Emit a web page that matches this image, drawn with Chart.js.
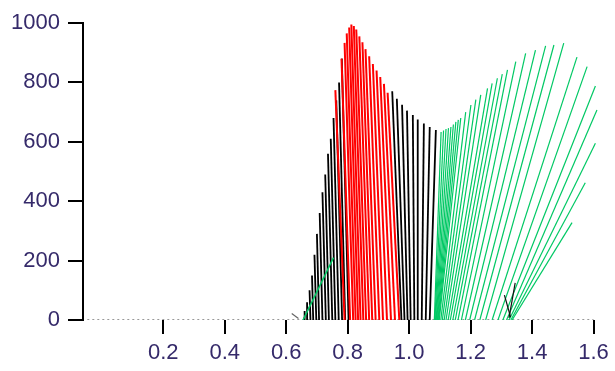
<!DOCTYPE html>
<html>
<head>
<meta charset="utf-8">
<script src="https://cdn.jsdelivr.net/npm/chart.js@4"></script>
<style>
  html, body { margin: 0; padding: 0; background: #fff; }
  #wrap { width: 615px; height: 371px; }
</style>
</head>
<body>
<div id="wrap"><canvas id="myChart"></canvas></div>
<script>
const xTicks = [0.2, 0.4, 0.6, 0.8, 1.0, 1.2, 1.4, 1.6];
const yTicks = [0, 200, 400, 600, 800, 1000];

// rising black strokes (base x at y=0, tip x, tip height)
const blackRiseBase = [0.661, 0.670, 0.679, 0.688, 0.698, 0.707, 0.718, 0.729, 0.739, 0.750, 0.760, 0.771, 0.782, 0.792, 0.803];
const blackRiseTipX = [0.660, 0.668, 0.676, 0.684, 0.692, 0.700, 0.709, 0.718, 0.727, 0.736, 0.745, 0.754, 0.763, 0.772, 0.781];
const blackRiseTipY = [30, 60, 100, 150, 220, 290, 360, 430, 490, 560, 610, 680, 740, 800, 880];

// red peak
const redBase = [0.790, 0.808, 0.818, 0.826, 0.834, 0.842, 0.851, 0.860, 0.870, 0.880, 0.891, 0.903, 0.915, 0.928, 0.941, 0.954, 0.968];
const redTipX = [0.760, 0.780, 0.790, 0.797, 0.805, 0.812, 0.820, 0.828, 0.838, 0.848, 0.858, 0.870, 0.882, 0.894, 0.906, 0.918, 0.930];
const redTipY = [774, 880, 933, 965, 985, 995, 990, 978, 955, 935, 912, 888, 862, 840, 818, 795, 765];

// falling black strokes after the peak
const blackFallBase = [0.975, 0.985, 0.995, 1.005, 1.017, 1.028, 1.041, 1.054, 1.067];
const blackFallTipX = [0.945, 0.960, 0.977, 0.993, 1.012, 1.028, 1.048, 1.067, 1.087];
const blackFallTipY = [770, 745, 725, 705, 690, 675, 662, 650, 640];

// green fan
const greenBase = [1.082, 1.084, 1.086, 1.088, 1.090, 1.092, 1.094, 1.096, 1.098, 1.103, 1.108, 1.114, 1.120, 1.127, 1.134, 1.142, 1.150, 1.159,
                   1.170, 1.183, 1.197, 1.213, 1.230, 1.249, 1.270, 1.289, 1.305, 1.317, 1.325, 1.331, 1.335];
const greenTipX = [1.104, 1.112, 1.120, 1.128, 1.136, 1.144, 1.152, 1.160, 1.168, 1.184, 1.201, 1.217, 1.233, 1.255, 1.270, 1.287, 1.303, 1.320,
                   1.347, 1.379, 1.411, 1.444, 1.471, 1.503, 1.546, 1.579, 1.606, 1.611, 1.606, 1.573, 1.530];
const greenTipY = [633, 638, 643, 646, 650, 658, 667, 674, 680, 700, 724, 742, 758, 780, 797, 814, 828, 842,
                   870, 898, 909, 923, 926, 932, 885, 853, 788, 707, 595, 462, 328];

// small leftover strokes near the base
const strayFromX = [0.618, 0.657, 1.325, 1.310];
const strayFromY = [22, 5, 7, 84];
const strayToX = [0.640, 0.680, 1.345, 1.330];
const strayToY = [5, 55, 125, 10];
const strayColor = ['#666', '#555', '#111', '#111'];

const greenLowFrom = [0.655, 0];
const greenLowTo = [0.754, 210];

const baseLineX = [-0.047, 1.6];

const BLACK = '#000000';
const RED = '#ff0000';
const GREEN = '#00c864';

function strokes(base, tipX, tipY, color, width) {
  return base.map((b, i) => ({
    data: [{ x: b, y: 0 }, { x: tipX[i], y: tipY[i] }],
    borderColor: color,
    borderWidth: width,
    showLine: true,
    pointRadius: 0,
    fill: false
  }));
}

const datasets = [];

// baseline dots along y = 0
datasets.push({
  data: baseLineX.map(x => ({ x: x, y: 0 })),
  borderColor: '#333',
  borderWidth: 1,
  borderDash: [2, 3],
  showLine: true,
  pointRadius: 0,
  order: 10
});

strokes(blackRiseBase, blackRiseTipX, blackRiseTipY, BLACK, 1.8).forEach(d => { d.order = 5; datasets.push(d); });
strokes(redBase, redTipX, redTipY, RED, 2).forEach(d => { d.order = 4; datasets.push(d); });
strokes(blackFallBase, blackFallTipX, blackFallTipY, BLACK, 1.8).forEach(d => { d.order = 3; datasets.push(d); });
strokes(greenBase, greenTipX, greenTipY, GREEN, 1.2).forEach(d => { d.order = 2; datasets.push(d); });

datasets.push({
  data: [{ x: greenLowFrom[0], y: greenLowFrom[1] }, { x: greenLowTo[0], y: greenLowTo[1] }],
  borderColor: GREEN, borderWidth: 1.5, showLine: true, pointRadius: 0, order: 1
});

strayFromX.forEach((x, i) => {
  datasets.push({
    data: [{ x: x, y: strayFromY[i] }, { x: strayToX[i], y: strayToY[i] }],
    borderColor: strayColor[i], borderWidth: 1.2, showLine: true, pointRadius: 0, order: 1
  });
});

const tickFont = { family: "Arial, 'Liberation Sans', sans-serif", size: 22 };
const tickColor = '#352a6a';

const config = {
  type: 'scatter',
  data: { datasets: datasets },
  options: {
    responsive: false,
    animation: false,
    layout: { padding: { top: 23, right: 10, bottom: 0, left: 0 } },
    plugins: { legend: { display: false }, tooltip: { enabled: false } },
    scales: {
      x: {
        type: 'linear',
        min: -0.061,
        max: 1.625,
        afterBuildTicks: s => { s.ticks = xTicks.map(v => ({ value: v })); },
        afterFit: s => { s.height = 51; },
        ticks: {
          color: tickColor,
          font: tickFont,
          padding: 6,
          maxRotation: 0,
          callback: v => v.toFixed(1)
        },
        grid: { drawOnChartArea: false, color: BLACK, lineWidth: 2, tickLength: 14 },
        border: { display: false }
      },
      y: {
        min: 0,
        max: 1000,
        afterBuildTicks: s => { s.ticks = yTicks.map(v => ({ value: v })); },
        afterFit: s => { s.width = 83; },
        ticks: { color: tickColor, font: tickFont, padding: 8, callback: v => String(v) },
        grid: { drawOnChartArea: false, color: BLACK, lineWidth: 2, tickLength: 15 },
        border: { color: BLACK, width: 2 }
      }
    }
  }
};

const canvas = document.getElementById('myChart');
canvas.width = 615;
canvas.height = 371;
const myChart = new Chart(canvas, config);
</script>
</body>
</html>
